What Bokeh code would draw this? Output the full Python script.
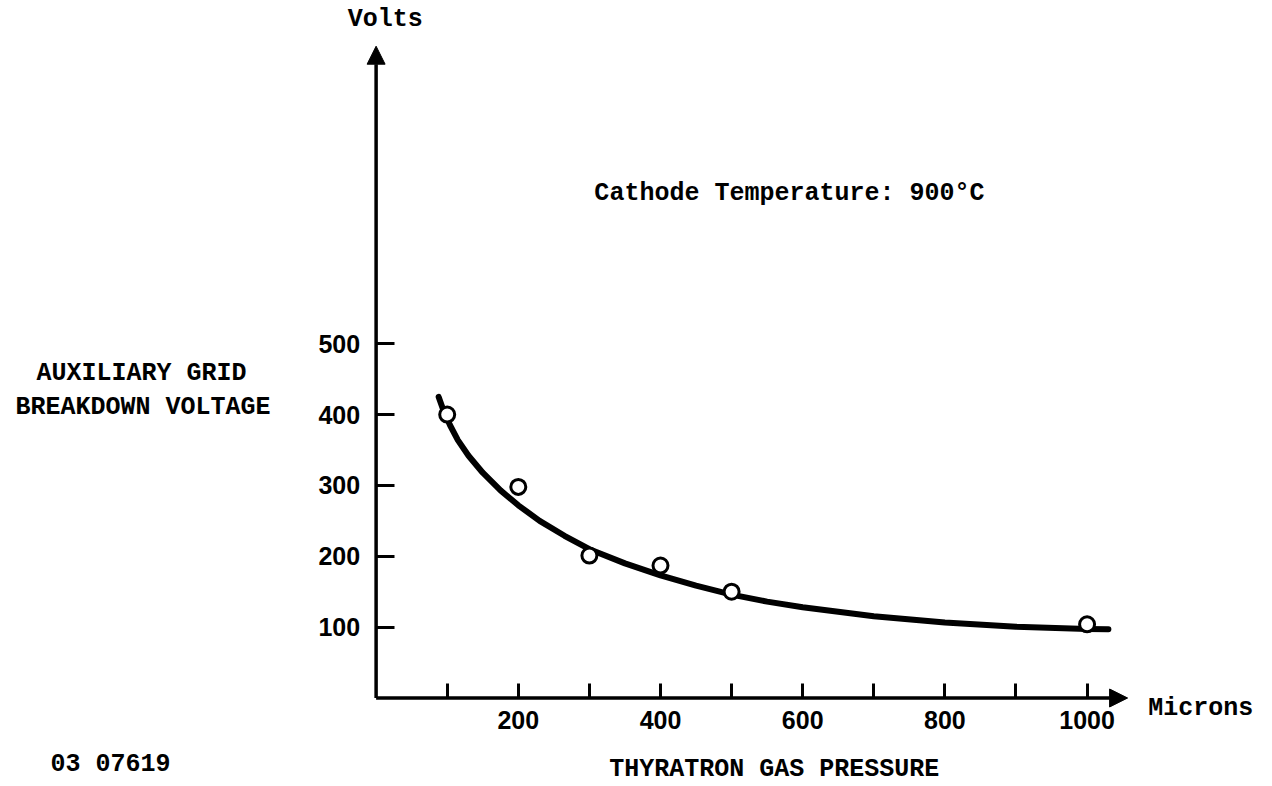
from bokeh.plotting import figure
from bokeh.models import Range1d, LinearAxis, FixedTicker, Arrow, NormalHead, Label
from bokeh.embed import file_html
from bokeh.resources import INLINE

# ---- data ----
pressure = [100, 200, 300, 400, 500, 1000]          # microns
voltage = [400, 298, 201, 187, 150, 104]            # volts

# points
curve_x = [88, 95, 104, 115, 130, 150, 175, 200, 230, 265, 300, 350, 400, 450,
           500, 550, 600, 700, 800, 900, 1000, 1030]
curve_y = [425, 405, 385, 364, 342, 318, 293, 272, 250, 229, 210, 190, 173, 158.5,
           146, 136, 128, 115.5, 106.5, 100.5, 97.5, 97]

x_ticks = [100, 200, 300, 400, 500, 600, 700, 800, 900, 1000]
x_tick_labels = ["", "200", "", "400", "", "600", "", "800", "", "1000"]
y_ticks = [100, 200, 300, 400, 500]
y_tick_labels = ["100", "200", "300", "400", "500"]

x_axis_end = 1057
y_axis_end = 920

MONO = "Liberation Mono"
SANS = "Liberation Sans"

p = figure(width=1272, height=786, output_backend="svg", toolbar_location=None,
           x_axis_type=None, y_axis_type=None,
           x_range=Range1d(-528.3, 1260.8), y_range=Range1d(-124.9, 984.5),
           min_border=0, min_border_left=0, min_border_right=0,
           min_border_top=0, min_border_bottom=0)
p.outline_line_color = None
p.background_fill_color = "white"
p.border_fill_color = "white"
p.xgrid.visible = False
p.ygrid.visible = False

# axes placed at the origin
xaxis = LinearAxis(fixed_location=0, ticker=FixedTicker(ticks=x_ticks))
xaxis.major_label_overrides = {t: l for t, l in zip(x_ticks, x_tick_labels)}
xaxis.axis_line_color = None
xaxis.major_tick_in = 15
xaxis.major_tick_out = 0
xaxis.major_tick_line_width = 3
xaxis.major_tick_line_color = "black"
xaxis.minor_tick_line_color = None
xaxis.major_label_standoff = 13
xaxis.major_label_text_font = SANS
xaxis.major_label_text_font_style = "bold"
xaxis.major_label_text_font_size = "25px"
xaxis.major_label_text_color = "black"
p.add_layout(xaxis, "below")

yaxis = LinearAxis(fixed_location=0, ticker=FixedTicker(ticks=y_ticks))
yaxis.major_label_overrides = {t: l for t, l in zip(y_ticks, y_tick_labels)}
yaxis.axis_line_color = None
yaxis.major_tick_in = 18
yaxis.major_tick_out = 0
yaxis.major_tick_line_width = 3
yaxis.major_tick_line_color = "black"
yaxis.minor_tick_line_color = None
yaxis.major_label_standoff = 16
yaxis.major_label_text_font = SANS
yaxis.major_label_text_font_style = "bold"
yaxis.major_label_text_font_size = "25px"
yaxis.major_label_text_color = "black"
p.add_layout(yaxis, "left")

# axis lines with arrow heads
p.add_layout(Arrow(x_start=0, y_start=0, x_end=x_axis_end, y_end=0,
                   line_width=3.5, line_color="black",
                   end=NormalHead(size=18, fill_color="black", line_color="black", line_width=1)))
p.add_layout(Arrow(x_start=0, y_start=0, x_end=0, y_end=y_axis_end,
                   line_width=3.5, line_color="black",
                   end=NormalHead(size=18, fill_color="black", line_color="black", line_width=1)))

# fitted curve and measured points
p.line(curve_x, curve_y, line_width=6, line_color="black", line_cap="round", line_join="round")
p.scatter(pressure, voltage, size=15, marker="circle", fill_color="white",
          line_color="black", line_width=3)

def lab(x, y, text, align="center", font=MONO, size="25px"):
    p.add_layout(Label(x=x, y=y, text=text, text_align=align, text_baseline="middle",
                       text_font=font, text_font_style="bold", text_font_size=size,
                       text_color="black"))

lab(13, 957, "Volts")
lab(307, 712, "Cathode Temperature: 900°C", align="left")
lab(-330, 458, "AUXILIARY GRID")
lab(-328, 410, "BREAKDOWN VOLTAGE")
lab(1086, -15, "Microns", align="left")
lab(560, -101, "THYRATRON GAS PRESSURE")
lab(-458, -94, "03 07619", align="left")

open("out.html", "w").write(file_html(p, INLINE))
